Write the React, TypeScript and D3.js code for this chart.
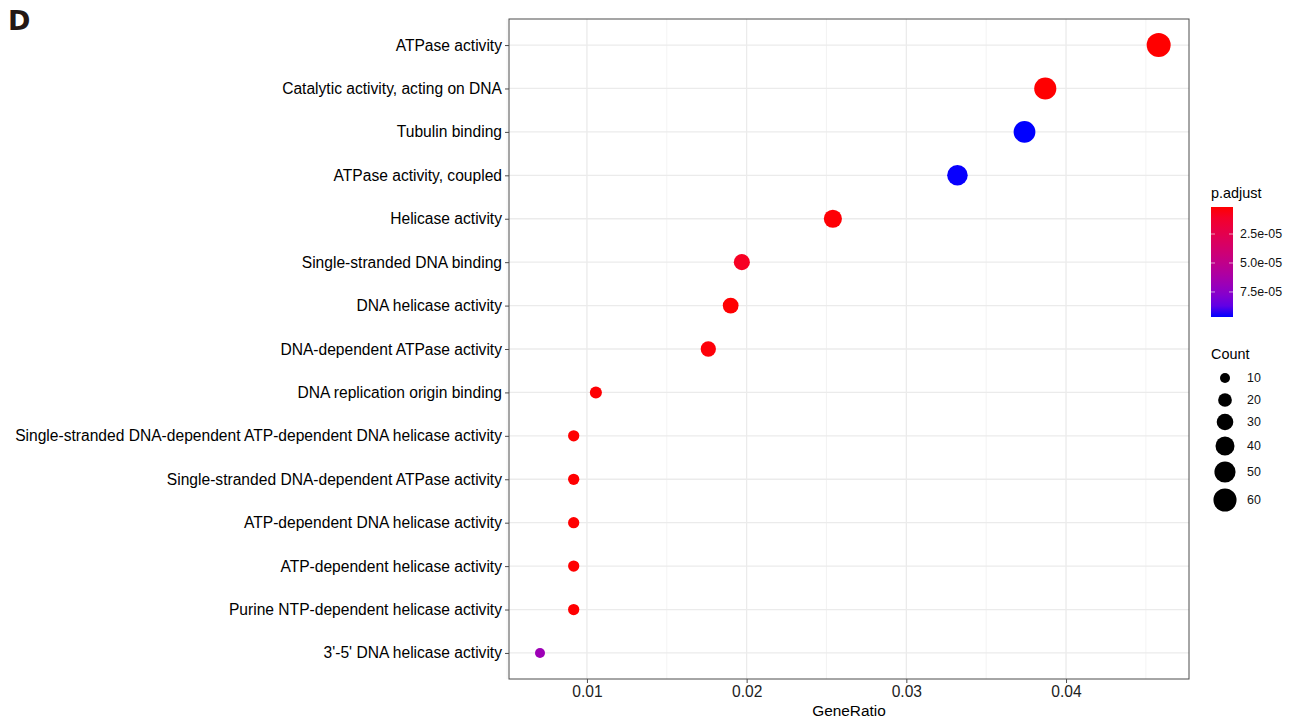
import React, { useEffect, useRef } from "react";
import * as d3 from "d3";

// GO terms, top to bottom
const terms = [
  "ATPase activity",
  "Catalytic activity, acting on DNA",
  "Tubulin binding",
  "ATPase activity, coupled",
  "Helicase activity",
  "Single-stranded DNA binding",
  "DNA helicase activity",
  "DNA-dependent ATPase activity",
  "DNA replication origin binding",
  "Single-stranded DNA-dependent ATP-dependent DNA helicase activity",
  "Single-stranded DNA-dependent ATPase activity",
  "ATP-dependent DNA helicase activity",
  "ATP-dependent helicase activity",
  "Purine NTP-dependent helicase activity",
  "3'-5' DNA helicase activity",
];
const geneRatio = [0.0458, 0.0387, 0.0374, 0.0332, 0.0254, 0.0197, 0.019, 0.0176, 0.01056, 0.00917, 0.00917, 0.00917, 0.00917, 0.00917, 0.00706];
const counts = [65, 55, 53, 47, 36, 28, 27, 25, 15, 13, 13, 13, 13, 13, 10];
const pAdjust = [1.7e-6, 1.8e-6, 9.66e-5, 9.64e-5, 2.5e-6, 9e-6, 2.0e-6, 3.0e-6, 2.2e-6, 1.9e-6, 1.9e-6, 1.9e-6, 1.9e-6, 1.9e-6, 6.8e-5];

const xTicks = [0.01, 0.02, 0.03, 0.04];
const xMinor = [0.005, 0.015, 0.025, 0.035, 0.045];
const colorTicks = [2.5e-5, 5.0e-5, 7.5e-5];
const colorTickLabels = ["2.5e-05", "5.0e-05", "7.5e-05"];
const sizeBreaks = [10, 20, 30, 40, 50, 60];
const sizeKeyY = [378, 400, 422, 446, 472, 500];

const App = () => {
  const ref = useRef<SVGSVGElement>(null);

  useEffect(() => {
    const svg = d3.select(ref.current);
    svg.selectAll("*").remove();

    const panel = { left: 509, right: 1189, top: 19, bottom: 679 };
    const font = "Liberation Sans, Arial, sans-serif";

    const x = d3.scaleLinear().domain([0.00512, 0.0477]).range([panel.left, panel.right]);
    const y = d3.scalePoint<string>().domain(terms).range([panel.top, panel.bottom]).padding(0.6);

    const pMin = 1.7e-6, pMax = 9.66e-5;
    const color = d3.scaleLinear<string>().domain([pMin, pMax]).range(["red", "blue"])
      .interpolate(d3.interpolateLab);
    const size = d3.scaleSqrt().domain([10, 65]).range([0, 1]);
    const radius = (c: number) => 5 + 7 * size(c);

    // panel background + grid
    const g = svg.append("g");
    g.append("rect")
      .attr("x", panel.left).attr("y", panel.top)
      .attr("width", panel.right - panel.left).attr("height", panel.bottom - panel.top)
      .attr("fill", "white");
    g.selectAll(".minor").data(xMinor).enter().append("line")
      .attr("x1", d => x(d)).attr("x2", d => x(d))
      .attr("y1", panel.top).attr("y2", panel.bottom)
      .attr("stroke", "#f0f0f0").attr("stroke-width", 0.8);
    g.selectAll(".major").data(xTicks).enter().append("line")
      .attr("x1", d => x(d)).attr("x2", d => x(d))
      .attr("y1", panel.top).attr("y2", panel.bottom)
      .attr("stroke", "#ebebeb").attr("stroke-width", 1.3);
    g.selectAll(".hgrid").data(terms).enter().append("line")
      .attr("x1", panel.left).attr("x2", panel.right)
      .attr("y1", d => y(d)!).attr("y2", d => y(d)!)
      .attr("stroke", "#ebebeb").attr("stroke-width", 1.3);

    // points
    g.selectAll(".dot").data(terms).enter().append("circle")
      .attr("cx", (d, i) => x(geneRatio[i]))
      .attr("cy", d => y(d)!)
      .attr("r", (d, i) => radius(counts[i]))
      .attr("fill", (d, i) => color(pAdjust[i]));

    g.append("rect")
      .attr("x", panel.left).attr("y", panel.top)
      .attr("width", panel.right - panel.left).attr("height", panel.bottom - panel.top)
      .attr("fill", "none").attr("stroke", "#4d4d4d").attr("stroke-width", 1);

    // axes
    const yAxis = svg.append("g").attr("transform", `translate(${panel.left},0)`)
      .call(d3.axisLeft(y).tickSize(4).tickPadding(3));
    yAxis.select(".domain").remove();
    yAxis.selectAll("line").attr("stroke", "#4d4d4d");
    yAxis.selectAll("text").attr("fill", "#000").style("font-size", "15.6px").style("font-family", font);

    const xAxis = svg.append("g").attr("transform", `translate(0,${panel.bottom})`)
      .call(d3.axisBottom(x).tickValues(xTicks).tickFormat(d3.format(".2f")).tickSize(4).tickPadding(3));
    xAxis.select(".domain").remove();
    xAxis.selectAll("line").attr("stroke", "#4d4d4d");
    xAxis.selectAll("text").attr("fill", "#222").style("font-size", "15.6px").style("font-family", font);

    svg.append("text").attr("x", (panel.left + panel.right) / 2).attr("y", 716)
      .attr("text-anchor", "middle").style("font-size", "15.4px").style("font-family", font)
      .text("GeneRatio");

    // panel tag
    svg.append("text").attr("x", 8).attr("y", 30)
      .style("font-size", "27px").style("font-weight", "900").style("font-family", "DejaVu Sans, sans-serif")
      .attr("fill", "#231815").text("D");

    // colour legend
    const bar = { x: 1211, y: 207, w: 22, h: 110 };
    svg.append("text").attr("x", bar.x).attr("y", 198)
      .style("font-size", "14.4px").style("font-family", font).text("p.adjust");
    const grad = svg.append("defs").append("linearGradient").attr("id", "pgrad")
      .attr("x1", 0).attr("x2", 0).attr("y1", 0).attr("y2", 1);
    d3.range(0, 1.0001, 0.1).forEach(t => {
      grad.append("stop").attr("offset", t).attr("stop-color", color(pMin + t * (pMax - pMin)));
    });
    svg.append("rect").attr("x", bar.x).attr("y", bar.y).attr("width", bar.w).attr("height", bar.h)
      .attr("fill", "url(#pgrad)");
    const cy = d3.scaleLinear().domain([pMin, pMax]).range([bar.y, bar.y + bar.h]);
    colorTicks.forEach((t, i) => {
      svg.append("line").attr("x1", bar.x).attr("x2", bar.x + 4).attr("y1", cy(t)).attr("y2", cy(t))
        .attr("stroke", "white").attr("stroke-opacity", 0.6);
      svg.append("line").attr("x1", bar.x + bar.w - 4).attr("x2", bar.x + bar.w).attr("y1", cy(t)).attr("y2", cy(t))
        .attr("stroke", "white").attr("stroke-opacity", 0.6);
      svg.append("text").attr("x", 1240).attr("y", cy(t)).attr("dy", "0.35em")
        .style("font-size", "12.4px").style("font-family", font).attr("fill", "#111").text(colorTickLabels[i]);
    });

    // size legend
    svg.append("text").attr("x", bar.x).attr("y", 359)
      .style("font-size", "14.4px").style("font-family", font).text("Count");
    sizeBreaks.forEach((b, i) => {
      svg.append("circle").attr("cx", 1225).attr("cy", sizeKeyY[i]).attr("r", radius(b)).attr("fill", "black");
      svg.append("text").attr("x", 1247).attr("y", sizeKeyY[i]).attr("dy", "0.35em")
        .style("font-size", "12.4px").style("font-family", font).attr("fill", "#111").text(b);
    });
  }, []);

  return (
    <svg ref={ref} width={1290} height={720}
      style={{ position: "absolute", left: 0, top: 0, background: "white" }} />
  );
};

export default App;
